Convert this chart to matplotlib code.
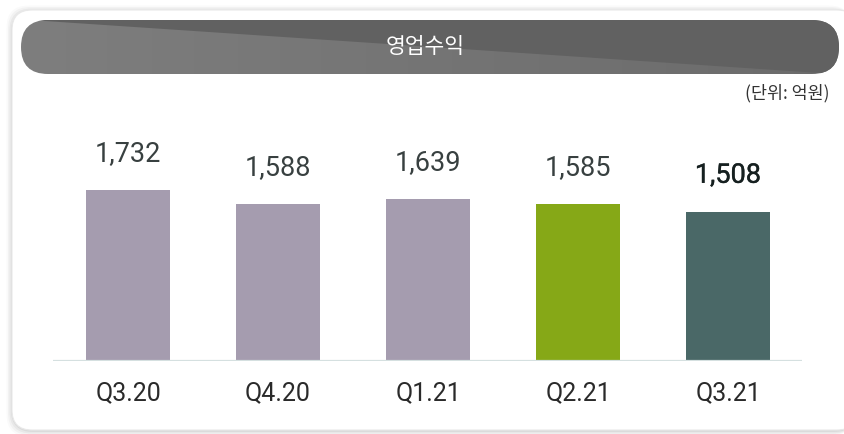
import numpy as np
import matplotlib
matplotlib.use("Agg")
import matplotlib.pyplot as plt
import matplotlib.patheffects as pe
from matplotlib.patches import FancyBboxPatch, Polygon

plt.rcParams["font.family"] = ["Roboto", "Noto Sans CJK KR", "DejaVu Sans"]

# data
QUARTERS = ["Q3.20", "Q4.20", "Q1.21", "Q2.21", "Q3.21"]
PROFIT = [1732, 1588, 1639, 1585, 1508]
BAR_COLORS = ["#a59caf", "#a59caf", "#a59caf", "#86a817", "#4a6867"]
TITLE = "영업수익"
UNIT = "(단위: 억원)"

W, H = 845, 434
fig = plt.figure(figsize=(W / 100, H / 100), dpi=100)
fig.patch.set_facecolor("white")

# background layer in pixel coordinates
bg = fig.add_axes([0, 0, 1, 1])
bg.set_xlim(0, W)
bg.set_ylim(H, 0)
bg.axis("off")

# soft card shadow
for i, a in enumerate([0.05, 0.04, 0.03, 0.02]):
    d = 1 + i * 1.5
    bg.add_patch(FancyBboxPatch((12 - d, 10 - d + 1), W, 420 + 2 * d,
                                boxstyle="round,pad=0,rounding_size=22",
                                facecolor="black", edgecolor="none", alpha=a))
bg.add_patch(FancyBboxPatch((12, 10), W, 420,
                            boxstyle="round,pad=0,rounding_size=20",
                            facecolor="white", edgecolor="#e8e8e8", lw=0.8))

# header pill with gradient and darker diagonal band
pill = FancyBboxPatch((21, 20), 818, 54, boxstyle="round,pad=0,rounding_size=27",
                      facecolor="none", edgecolor="none")
bg.add_patch(pill)
grad = np.linspace(0, 1, 256).reshape(1, -1)
im = bg.imshow(grad, extent=(21, 839, 74, 20), aspect="auto",
               cmap=matplotlib.colors.LinearSegmentedColormap.from_list(
                   "hdr", ["#7e7e7e", "#6b6b6b"]), zorder=2)
im.set_clip_path(pill)
band = Polygon([(30, 20), (850, 20), (850, 74), (835, 74)], closed=True,
               facecolor="#616161", edgecolor="none", zorder=3)
bg.add_patch(band)
band.set_clip_path(pill)
bg.text(425, 47, TITLE, color="white", fontsize=15.5, ha="center", va="center",
        family=["Noto Sans CJK KR", "DejaVu Sans"], fontweight="light", zorder=4)
bg.text(830, 93, UNIT, color="#333333", fontsize=12.5, ha="right", va="center",
        family=["Noto Sans CJK KR", "DejaVu Sans"], fontweight="light")

# bar chart
px_left, px_right, px_base, px_top = 53, 802, 360.5, 124.0
ax = fig.add_axes([px_left / W, (H - px_base) / H,
                   (px_right - px_left) / W, (px_base - px_top) / H])
ax.set_facecolor("none")
x = np.arange(len(QUARTERS))
ax.bar(x, PROFIT, width=0.56, color=BAR_COLORS, zorder=2)
ax.set_xlim(-0.5, 4.493)
ax.set_ylim(0, (px_base - px_top) / 0.0985)
ax.axhline(0, color="#d5e0e0", lw=1.6, zorder=3)
for s in ax.spines.values():
    s.set_visible(False)
ax.set_yticks([])
ax.set_xticks(x)
ax.set_xticklabels(QUARTERS, fontsize=18, color="#2a2a2a")
ax.tick_params(axis="x", length=0, pad=15)

for i, v in enumerate(PROFIT):
    last = i == len(PROFIT) - 1
    t = ax.annotate(f"{v:,}", (x[i], v), xytext=(0, 21), textcoords="offset points",
                    ha="center", va="baseline", fontsize=19.5,
                    color="#162020" if last else "#384040")
    if last:
        t.set_path_effects([pe.withStroke(linewidth=0.25, foreground="#162020")])

fig.savefig("out.png", dpi=100)
